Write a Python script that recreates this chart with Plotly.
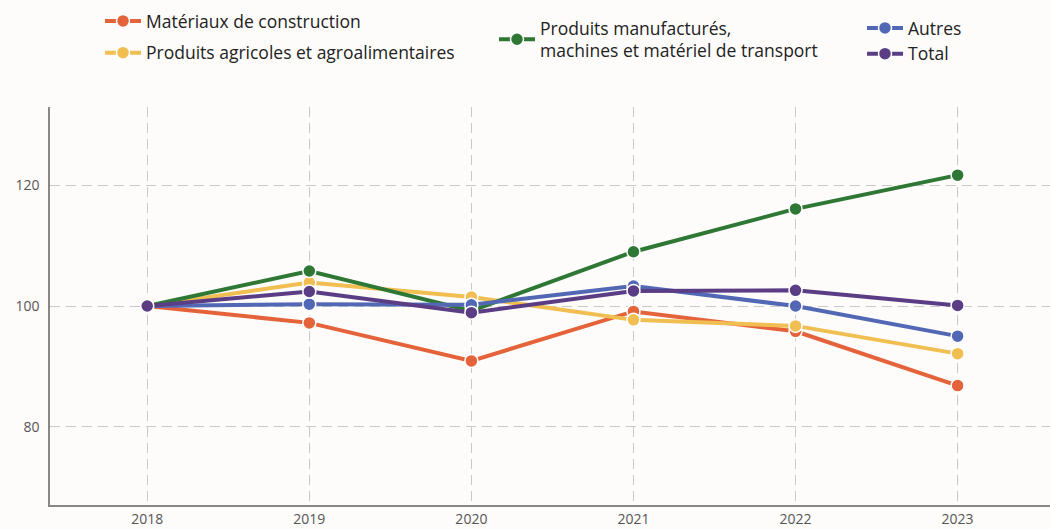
import plotly.graph_objects as go

years = [2018, 2019, 2020, 2021, 2022, 2023]

materiaux = [100, 97.2, 90.9, 99.1, 95.8, 86.8]
agricoles = [100, 103.9, 101.5, 97.7, 96.7, 92.1]
manufactures = [100, 105.8, 99.2, 109.0, 116.1, 121.7]
autres = [100, 100.3, 100.2, 103.3, 100.0, 95.0]
total = [100, 102.4, 98.9, 102.5, 102.6, 100.1]

names = [
    "Matériaux de construction",
    "Produits agricoles et agroalimentaires",
    "Produits manufacturés,<br>machines et matériel de transport",
    "Autres",
    "Total",
]
colors = ["#E5633A", "#F1BE52", "#2E7734", "#5368B5", "#5A3D85"]
legend_ids = ["legend", "legend", "legend2", "legend3", "legend3"]
series = [materiaux, agricoles, manufactures, autres, total]

FONT = "Open Sans"

fig = go.Figure()
for i, (name, vals, col, lg) in enumerate(zip(names, series, colors, legend_ids)):
    fig.add_trace(go.Scatter(
        x=years, y=vals, name=name, mode="lines+markers",
        line=dict(color=col, width=4),
        marker=dict(color=col, size=13, line=dict(color="white", width=1.5)),
        legend=lg, legendgroup=f"g{i}",
    ))

legend_common = dict(
    orientation="v", bgcolor="rgba(0,0,0,0)",
    font=dict(family=FONT, size=17.5, color="#222222"),
    xanchor="left", yanchor="top", xref="container", yref="container",
    itemwidth=36, traceorder="grouped",
)

fig.update_layout(
    width=1050, height=529,
    paper_bgcolor="#FDFCFA", plot_bgcolor="#FDFCFA",
    margin=dict(l=50, r=0, t=107, b=24, autoexpand=False),
    font=dict(family=FONT, color="#555555"),
    legend=dict(x=100 / 1050, y=1 - 3 / 529, tracegroupgap=6, **legend_common),
    legend2=dict(x=494 / 1050, y=1 - 10 / 529, tracegroupgap=0, **legend_common),
    legend3=dict(x=862 / 1050, y=1 - 10 / 529, tracegroupgap=0, **legend_common),
    xaxis=dict(
        range=[2017.4, 2023.57], tickvals=years, ticktext=[str(y) for y in years],
        showgrid=True, gridcolor="#C9C9C9", griddash="10px,6px", gridwidth=1,
        showline=True, linecolor="#888888", linewidth=1.5,
        zeroline=False, ticks="", tickfont=dict(size=14, color="#555555"),
        automargin=False,
    ),
    yaxis=dict(
        range=[67, 133], tickvals=[80, 100, 120],
        showgrid=True, gridcolor="#C9C9C9", griddash="10px,6px", gridwidth=1,
        showline=True, linecolor="#888888", linewidth=1.5,
        zeroline=False, ticks="", tickfont=dict(size=14, color="#555555"),
        ticklabelstandoff=6, automargin=False,
    ),
)

fig.write_html("out.html")
